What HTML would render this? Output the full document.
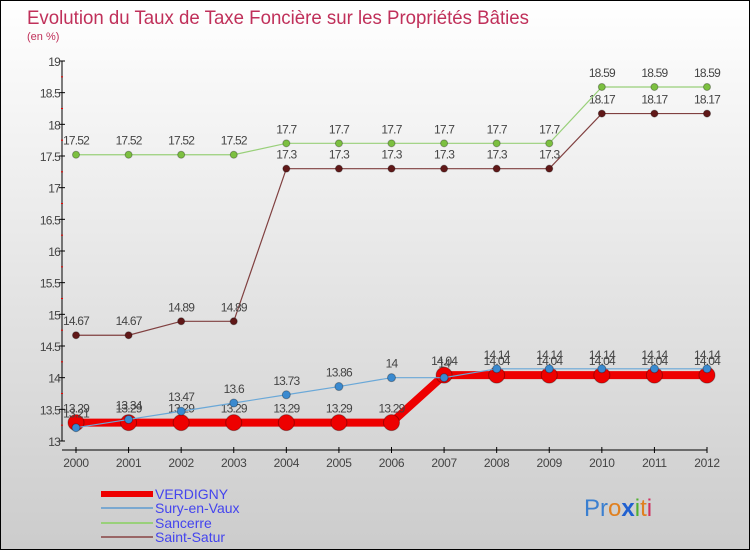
<!DOCTYPE html>
<html><head><meta charset="utf-8"><style>
body{margin:0}
#c{width:750px;height:550px;position:relative;overflow:hidden;background:linear-gradient(#ffffff,#cccccc);font-family:"Liberation Sans",sans-serif;box-sizing:border-box;border:1px solid #000}
svg{position:absolute;left:0;top:0}
</style></head><body>
<div id="c">
<svg id="s" width="750" height="550">
<text x="26" y="23" font-size="19.5" fill="#c0305a" textLength="502" lengthAdjust="spacingAndGlyphs">Evolution du Taux de Taxe Foncière sur les Propriétés Bâties</text>
<text x="26" y="39" font-size="11" fill="#c0305a">(en %)</text>
<g id="axes"></g><g id="series"></g>
<g>
<line x1="100" y1="493" x2="152" y2="493" stroke="#ee0000" stroke-width="6"/>
<text x="154" y="498" font-size="14" fill="#4444ee">VERDIGNY</text>
<line x1="100" y1="507" x2="152" y2="507" stroke="#7aa8d0" stroke-width="2"/>
<text x="154" y="512" font-size="14" fill="#4444ee">Sury-en-Vaux</text>
<line x1="100" y1="522" x2="152" y2="522" stroke="#99d07a" stroke-width="2"/>
<text x="154" y="527" font-size="14" fill="#4444ee">Sancerre</text>
<line x1="100" y1="536" x2="152" y2="536" stroke="#996666" stroke-width="2"/>
<text x="154" y="541" font-size="14" fill="#4444ee">Saint-Satur</text>
</g>
<g font-size="24">
<text x="583" y="515"><tspan fill="#3a7fd0">Pr</tspan><tspan fill="#e08020">o</tspan><tspan fill="#2060d0" font-weight="bold">x</tspan><tspan fill="#50b030">i</tspan><tspan fill="#e08020">t</tspan><tspan fill="#d03060">i</tspan></text>
</g>
</svg>
</div>
<script>
const years=[2000,2001,2002,2003,2004,2005,2006,2007,2008,2009,2010,2011,2012];
const yTicks=[13,13.5,14,14.5,15,15.5,16,16.5,17,17.5,18,18.5,19];
const verdigny=[13.29,13.29,13.29,13.29,13.29,13.29,13.29,14.04,14.04,14.04,14.04,14.04,14.04];
const sury=[13.21,13.34,13.47,13.6,13.73,13.86,14,14,14.14,14.14,14.14,14.14,14.14];
const sancerre=[17.52,17.52,17.52,17.52,17.7,17.7,17.7,17.7,17.7,17.7,18.59,18.59,18.59];
const saintSatur=[14.67,14.67,14.89,14.89,17.3,17.3,17.3,17.3,17.3,17.3,18.17,18.17,18.17];
const NS="http://www.w3.org/2000/svg";
const X=i=>75+i*(706-75)/12;
const Y=v=>440-(v-13)*(380/6);
function mk(t,a,p){const e=document.createElementNS(NS,t);for(const k in a)e.setAttribute(k,a[k]);p.appendChild(e);return e;}
const ax=document.getElementById('axes');
let yl=mk('line',{x1:61,y1:Y(19),x2:61,y2:Y(13),stroke:'#000'},ax);


let xl=mk('line',{x1:61,y1:449,x2:706,y2:449,stroke:'#000'},ax);


yTicks.forEach(v=>{
 mk('line',{x1:58,y1:Y(v),x2:64,y2:Y(v),stroke:'#000'},ax);
 if(v<19)mk('line',{x1:60,y1:Y(v+0.25),x2:62,y2:Y(v+0.25),stroke:'#e00'},ax);
 const t=mk('text',{x:59,y:Y(v)+5,'font-size':12,fill:'#444','text-anchor':'end','letter-spacing':'-0.8'},ax);
 t.textContent=String(v);
 
 
});
years.forEach((y,i)=>{
 mk('line',{x1:X(i),y1:446,x2:X(i),y2:452,stroke:'#000'},ax);
 const t=mk('text',{x:X(i),y:466,'font-size':12,fill:'#444','text-anchor':'middle','letter-spacing':'-0.3'},ax);
 t.textContent=String(y);
 
 
});
const sg=document.getElementById('series');
function draw(data,name,color,dot,lw,r){
 const g=mk('g',{},sg);
 
 
 const pts=data.map((v,i)=>X(i)+','+Y(v)).join(' ');
 mk('polyline',{points:pts,fill:'none',stroke:color,'stroke-width':lw},g);
 data.forEach((v,i)=>{
  const c=mk('circle',{cx:X(i),cy:Y(v),r:r,fill:dot,stroke:'rgba(0,0,0,0.3)'},g);
  
  
  const t=mk('text',{x:X(i),y:Y(v)-10,'font-size':12,fill:'#444','text-anchor':'middle','letter-spacing':'-0.8'},g);
  t.textContent=String(v);
  
  
 });
}
draw(saintSatur,'saint-satur','#804040','#601818',1.2,3.5);
draw(sancerre,'sancerre','#99d07a','#7cc040',1.2,3.5);
draw(verdigny,'verdigny','#ee0000','#ee0000',8,8);
draw(sury,'sury-en-vaux','#6aa8d8','#3a8ad0',1.2,4);
</script>
</body></html>
